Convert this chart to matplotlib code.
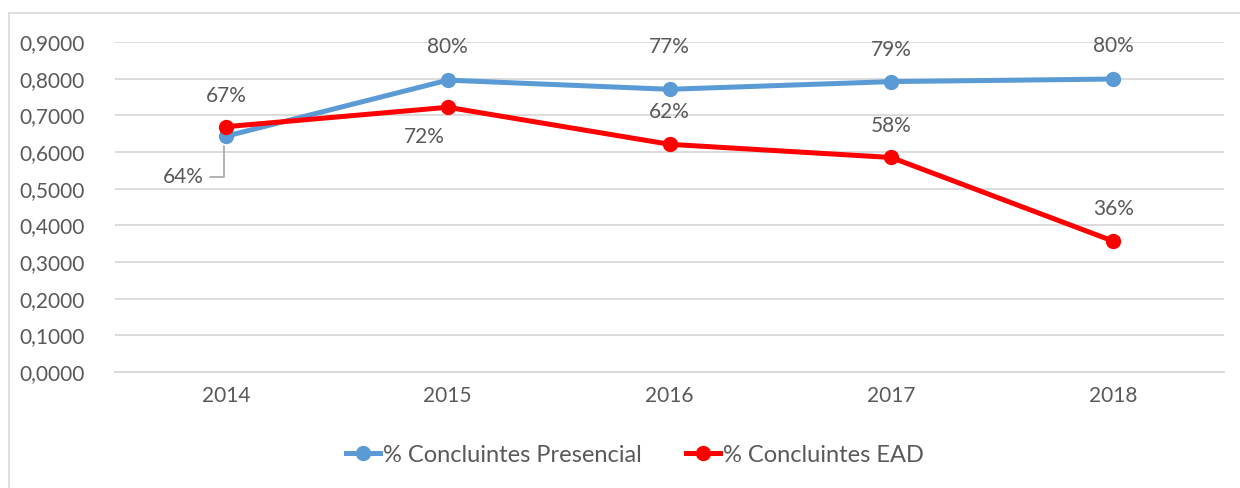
import matplotlib.pyplot as plt
from matplotlib.patches import Rectangle

years = ["2014", "2015", "2016", "2017", "2018"]
presencial = [0.643, 0.796, 0.771, 0.792, 0.799]
ead = [0.669, 0.722, 0.621, 0.585, 0.357]
presencial_labels = ["64%", "80%", "77%", "79%", "80%"]
ead_labels = ["67%", "72%", "62%", "58%", "36%"]

blue = "#5B9BD5"
red = "#FF0000"
grey = "#595959"

plt.rcParams["font.family"] = ["Lato", "DejaVu Sans"]

fig = plt.figure(figsize=(12.4, 4.88), dpi=100)
# light frame around the chart area
fig.patches.append(Rectangle((9 / 1240, -0.1), 1.2, 1 - 13 / 488 + 0.1,
                             transform=fig.transFigure, fill=False,
                             edgecolor="#D9D9D9", linewidth=1.2))

ax = fig.add_axes([115 / 1240, 1 - 372 / 488, 1109 / 1240, 330 / 488])
x = list(range(len(years)))

ax.plot(x, presencial, "-o", color=blue, linewidth=3.6, markersize=10,
        label="% Concluintes Presencial", zorder=3)
ax.plot(x, ead, "-o", color=red, linewidth=3.6, markersize=10,
        label="% Concluintes EAD", zorder=4)

ax.set_xlim(-0.5, len(years) - 0.5)
ax.set_ylim(0, 0.9)
ax.set_yticks([i / 10 for i in range(10)])
ax.set_yticklabels([("%.4f" % (i / 10)).replace(".", ",") for i in range(10)])
ax.set_xticks(x)
ax.set_xticklabels(years)
ax.tick_params(length=0, labelsize=15, labelcolor=grey, pad=10)
ax.tick_params(axis="y", pad=22)
ax.yaxis.grid(True, color="#D9D9D9", linewidth=1.3)
ax.set_axisbelow(True)
for side in ["top", "right", "left"]:
    ax.spines[side].set_visible(False)
ax.spines["bottom"].set_color("#D9D9D9")
ax.spines["bottom"].set_linewidth(1.3)

# data labels (offsets in pixels)
pres_off = [None, (0, 33), (0, 42), (0, 32), (0, 33)]
ead_off = [(0, 31), (-23, -30), (0, 32), (0, 31), (0, 32)]
for i in range(len(years)):
    if pres_off[i] is not None:
        ax.annotate(presencial_labels[i], (i, presencial[i]), xytext=pres_off[i],
                    textcoords="offset pixels", ha="center", va="center",
                    fontsize=15, color=grey)
    ax.annotate(ead_labels[i], (i, ead[i]), xytext=ead_off[i],
                textcoords="offset pixels", ha="center", va="center",
                fontsize=15, color=grey)

# first presencial label sits below-left with a leader line
ax.annotate(presencial_labels[0], (0, presencial[0]), xytext=(-43, -41),
            textcoords="offset pixels", ha="center", va="center",
            fontsize=15, color=grey)
ax.annotate("", (-0.009, presencial[0]), xytext=(-14, -41),
            textcoords="offset pixels",
            arrowprops=dict(arrowstyle="-", color="#A6A6A6", linewidth=1.2,
                            connectionstyle="angle,angleA=0,angleB=90,rad=0",
                            shrinkA=0, shrinkB=7))

fig.legend(loc="center", bbox_to_anchor=(0.512, 1 - 455 / 488), ncol=2,
           frameon=False, fontsize=17, labelcolor=grey, handlelength=1.45,
           columnspacing=1.9, handletextpad=0.1)

fig.savefig("out.png", dpi=100)
